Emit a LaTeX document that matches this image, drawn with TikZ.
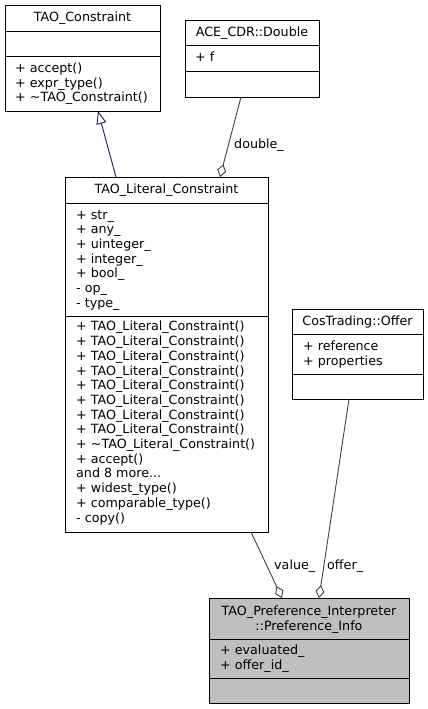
\documentclass[tikz,border=0pt]{standalone}
\usepackage{fontspec}
\setmainfont{DejaVu Sans}
\usetikzlibrary{arrows.meta}
\newcommand\umlfont{\fontsize{12.7}{14.7}\selectfont}
\tikzset{
  cls/.style={draw=black, line width=1pt, anchor=north west, inner sep=0pt, outer sep=0pt, fill=white},
  mem/.style={anchor=north west, align=left, inner sep=0pt, font=\umlfont},
  hdr/.style={anchor=base, inner sep=0pt, font=\umlfont},
  lbl/.style={anchor=base west, inner sep=0pt, font=\umlfont},
  sep/.style={draw=black, line width=1pt},
  inherit/.style={draw={rgb,255:red,25;green,25;blue,112}, line width=0.9pt, -{Triangle[open, length=13pt, width=10pt]}},
  agg/.style={draw={rgb,255:red,64;green,64;blue,64}, line width=0.9pt, -{Diamond[open, length=13pt, width=9pt]}},
}
\begin{document}
\begin{tikzpicture}[x=1pt,y=-1pt]
\useasboundingbox (0,0) rectangle (428,709);
% TAO_Constraint
\node[cls, minimum width=155pt, minimum height=105pt] (tc) at (5,6) {};
\draw[sep] (5,32) -- (160,32) (5,57) -- (160,57);
\node[hdr] (tcH) at (82.5,22) {TAO\_Constraint};
\node[mem] (tcO) at (15,62) {\strut + accept()\\+ expr\_type()\\+ \textasciitilde TAO\_Constraint()};
% ACE_CDR::Double
\node[cls, minimum width=134pt, minimum height=76pt] (dbl) at (185,21) {};
\draw[sep] (185,46) -- (319,46) (185,71) -- (319,71);
\node[hdr] (dblH) at (252,37) {ACE\_CDR::Double};
\node[mem] (dblA) at (195,51.5) {\strut + f};
% TAO_Literal_Constraint
\node[cls, minimum width=203pt, minimum height=355pt] (tlc) at (65,177) {};
\draw[sep] (65,203) -- (268,203) (65,316) -- (268,316);
\node[hdr] (tlcH) at (166.5,193) {TAO\_Literal\_Constraint};
\node[mem] (tlcA) at (76,208.7) {\strut + str\_\\+ any\_\\+ uinteger\_\\+ integer\_\\+ bool\_\\- op\_\\- type\_};
\node[mem] (tlcO) at (76,320.5) {\strut + TAO\_Literal\_Constraint()\\+ TAO\_Literal\_Constraint()\\+ TAO\_Literal\_Constraint()\\+ TAO\_Literal\_Constraint()\\+ TAO\_Literal\_Constraint()\\+ TAO\_Literal\_Constraint()\\+ TAO\_Literal\_Constraint()\\+ TAO\_Literal\_Constraint()\\+ \textasciitilde TAO\_Literal\_Constraint()\\+ accept()\\and 8 more...\\+ widest\_type()\\+ comparable\_type()\\- copy()};
% CosTrading::Offer
\node[cls, minimum width=131pt, minimum height=90pt] (off) at (292,309) {};
\draw[sep] (292,334) -- (423,334) (292,374) -- (423,374);
\node[hdr] (offH) at (357.5,325) {CosTrading::Offer};
\node[mem] (offA) at (303,340.5) {\strut + reference\\+ properties};
% Preference_Info
\node[cls, fill={rgb,255:red,191;green,191;blue,191}, minimum width=200pt, minimum height=105pt] (pi) at (209,598) {};
\draw[sep] (209,639) -- (409,639) (209,678) -- (409,678);
\node[anchor=north, align=center, inner sep=0pt, font=\fontsize{12.7}{13.5}\selectfont] (piH) at (309,605.5) {\strut TAO\_Preference\_Interpreter\\::Preference\_Info};
\node[mem] (piA) at (220,644) {\strut + evaluated\_\\+ offer\_id\_};
% connectors
\draw[inherit] ([xshift=51pt]tlc.north west) -- ([xshift=93pt]tc.south west);
\draw[agg] ([xshift=56pt]dbl.south west) -- ([xshift=155pt]tlc.north west);
\draw[agg] ([xshift=186pt]tlc.south west) -- ([xshift=73pt]pi.north west);
\draw[agg] ([xshift=57pt]off.south west) -- ([xshift=110pt]pi.north west);
\node[lbl] (lblD) at (234,148) {double\_};
\node[lbl] (lblV) at (274,569) {value\_};
\node[lbl] (lblO) at (327,569) {offer\_};
\end{tikzpicture}
\end{document}
